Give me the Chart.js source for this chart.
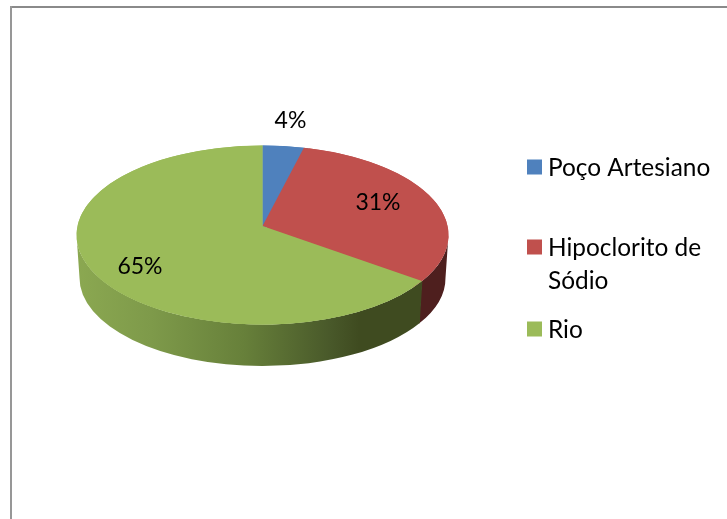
<!DOCTYPE html>
<html>
<head>
<meta charset="utf-8">
<style>html,body{margin:0;padding:0;background:#fff}canvas{display:block}</style>
<script src="https://cdn.jsdelivr.net/npm/chart.js@4"></script>
</head>
<body>
<canvas id="c" width="727" height="519"></canvas>
<script>
const categories = ['Poço Artesiano', 'Hipoclorito de Sódio', 'Rio'];
const legendLines = [['Poço Artesiano'], ['Hipoclorito de', 'Sódio'], ['Rio']];
const values = [4, 31, 65];
const colors = ['#4F81BD', '#C0504D', '#9BBB59'];

const LABEL_FONT = '23px Lato';
const LEGEND_FONT = '24.4px Lato';
const RY = 89.5, APEX_UP = 9;
const BOTTOM = {dy: 43, rx: 183, ry: 88};
const LABEL_POS = [[290.5, 121], [378, 203], [140, 267]];
const LEGEND_Y = [[168], [248, 281], [330]];
const warp = t => t - (6.2 * Math.PI / 180) * Math.sin(t);

const pie3d = {
  id: 'pie3d',
  beforeDatasetsDraw(chart) {
    const ctx = chart.ctx;
    const arcs = chart.getDatasetMeta(0).data;
    const {x: cx, y: cy, outerRadius: R} = arcs[0].getProps(['x', 'y', 'outerRadius'], true);
    ctx.save();
    ctx.fillStyle = '#8A8A8A';
    ctx.fillRect(10, 6, 717, 2);
    ctx.fillStyle = '#979797';
    ctx.fillRect(10, 6, 2, 513);
    const wall = (a0, a1, fill) => {
      ctx.beginPath();
      ctx.ellipse(cx, cy, R, RY, 0, a0, a1, false);
      ctx.ellipse(cx, cy + BOTTOM.dy, BOTTOM.rx, BOTTOM.ry, 0, a1, a0, true);
      ctx.closePath();
      ctx.fillStyle = fill;
      ctx.fill();
    };
    const g = ctx.createLinearGradient(cx - R, 0, cx + R, 0);
    g.addColorStop(0, '#8BA851');
    g.addColorStop(0.2, '#7E9A4A');
    g.addColorStop(0.45, '#67803A');
    g.addColorStop(0.68, '#49592A');
    g.addColorStop(0.76, '#3F4B20');
    g.addColorStop(1, '#3F4B20');
    arcs.forEach((a, i) => {
      const s = warp(a.startAngle + Math.PI / 2) - Math.PI / 2;
      const e = warp(a.endAngle + Math.PI / 2) - Math.PI / 2;
      const from = Math.max(s, 0), to = Math.min(e, Math.PI);
      if (to > from) wall(from - 0.004, to + 0.004, i === 2 ? g : '#4E1F1E');
    });
    ctx.restore();
    ctx.save();
    ctx.translate(cx, cy);
    ctx.scale(1, RY / R);
    ctx.translate(-cx, -cy);
  },
  afterDatasetsDraw(chart) {
    const ctx = chart.ctx;
    ctx.restore();
    const arcs = chart.getDatasetMeta(0).data;
    const {x: cx, y: cy, outerRadius: R} = arcs[0].getProps(['x', 'y', 'outerRadius'], true);
    ctx.save();
    arcs.forEach((a, i) => {
      const s = warp(a.startAngle + Math.PI / 2) - Math.PI / 2;
      const e = warp(a.endAngle + Math.PI / 2) - Math.PI / 2;
      ctx.beginPath();
      ctx.moveTo(cx, cy - APEX_UP);
      ctx.ellipse(cx, cy, R, RY, 0, s, e, false);
      ctx.closePath();
      ctx.fillStyle = colors[i];
      ctx.fill();
    });
    ctx.fillStyle = '#000';
    ctx.font = LABEL_FONT;
    ctx.textBaseline = 'middle';
    ctx.textAlign = 'center';
    values.forEach((v, i) => ctx.fillText(v + '%', LABEL_POS[i][0], LABEL_POS[i][1]));
    ctx.textAlign = 'left';
    ctx.font = LEGEND_FONT;
    legendLines.forEach((lines, i) => {
      ctx.fillStyle = colors[i];
      ctx.fillRect(527, LEGEND_Y[i][0] - 8.5, 15, 15);
      ctx.fillStyle = '#000';
      lines.forEach((t, j) => ctx.fillText(t, 548, LEGEND_Y[i][j]));
    });
    ctx.restore();
  }
};

new Chart(document.getElementById('c'), {
  type: 'pie',
  data: {
    labels: categories,
    datasets: [{data: values, backgroundColor: colors, borderWidth: 0, clip: false}]
  },
  options: {
    responsive: false,
    animation: false,
    layout: {padding: {left: 76.5, right: 278.5, top: 49, bottom: 98}},
    plugins: {legend: {display: false}, tooltip: {enabled: false}, title: {display: false}}
  },
  plugins: [pie3d]
});
</script>
</body>
</html>
